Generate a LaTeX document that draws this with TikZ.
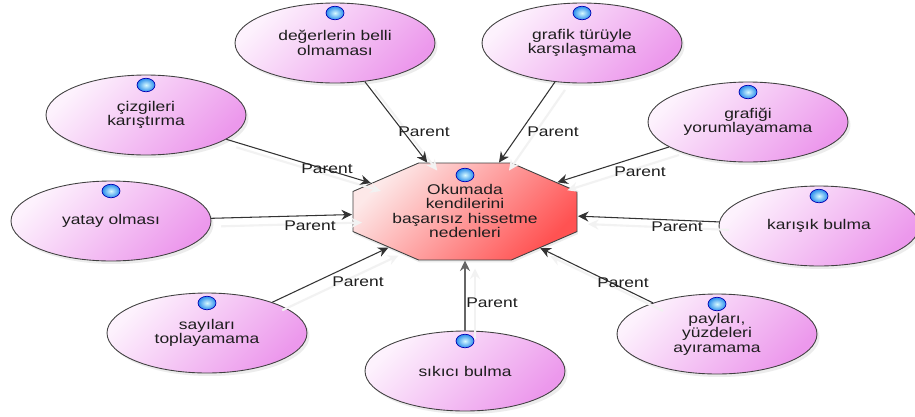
\documentclass[tikz,border=0pt]{standalone}
\usepackage{fontspec}
\setmainfont[FakeStretch=1.24]{Liberation Sans}
\usetikzlibrary{shapes.geometric,shadows,arrows.meta}
\definecolor{pinklight}{RGB}{253,242,253}
\definecolor{pinkdark}{RGB}{236,152,236}
\definecolor{redlight}{RGB}{253,232,232}
\definecolor{reddark}{RGB}{255,82,82}
\definecolor{bluebulb}{RGB}{40,140,235}
\definecolor{bluecore}{RGB}{215,250,255}
\definecolor{ink}{RGB}{30,30,30}

\begin{document}
\begin{tikzpicture}[x=0.02cm,y=-0.02cm,>={Stealth[length=0.21cm,width=0.2cm]}]
            \tikzstyle{cause}=[ellipse,draw=black!75,line width=0.5pt,top color=pinklight,bottom color=pinkdark,shading angle=45,minimum width=4cm,minimum height=1.6cm,inner sep=0pt,align=center,text=ink,font=\fontsize{8}{8.2}\selectfont,drop shadow={shadow xshift=0.05cm,shadow yshift=-0.06cm,opacity=0.15}]
            \tikzstyle{hub}=[regular polygon,regular polygon sides=8,minimum size=2cm,inner sep=0pt,transform shape,xscale=2.424,yscale=1.05,draw=black!75,line width=0.5pt,top color=redlight,bottom color=reddark,shading angle=45,drop shadow={shadow xshift=0.02cm,shadow yshift=-0.05cm,opacity=0.15}]
            \tikzstyle{bulb}=[ellipse,draw=blue!70!black,line width=0.4pt,inner color=bluecore,outer color=bluebulb,minimum width=0.36cm,minimum height=0.27cm,inner sep=0pt]
            \tikzstyle{tag}=[font=\fontsize{8}{9}\selectfont,text=ink,inner sep=1pt]
            \tikzstyle{link}=[->,draw=black!80,line width=0.6pt,preaction={draw=black!5,line width=1.2pt,transform canvas={shift={(0.2cm,-0.16cm)}}}]
            \tikzstyle{trunk}=[link,draw=black!60,line width=1.1pt]

                    \path[use as bounding box,fill=white] (0,0) rectangle (915,416);

                    \node[hub] (R) at (465,211.5){};
                    \node[align=center,text=ink,font=\fontsize{8}{8.2}\selectfont] (R-txt) at (465,211){Okumada\\kendilerini\\başarısız hissetme\\nedenleri};
                    \node[bulb] (B-R) at (465,175){};

                    \node[cause] (C-0) at (335,43){değerlerin belli\\olmaması};
                    \node[cause] (C-1) at (582,43){grafik türüyle\\karşılaşmama};
                    \node[cause] (C-2) at (146,115){çizgileri\\karıştırma};
                    \node[cause] (C-3) at (748,122){grafiği\\yorumlayamama};
                    \node[cause] (C-4) at (111,221){yatay olması};
                    \node[cause] (C-5) at (819,226){karışık bulma};
                    \node[cause] (C-6) at (207,333){sayıları\\toplayamama};
                    \node[cause] (C-7) at (465,371){sıkıcı bulma};
                    \node[cause] (C-8) at (717,334){payları,\\yüzdeleri\\ayıramama};

                \foreach \from in {0,...,8}
                    \node[bulb] (B-\from) at ([yshift=0.6cm]C-\from.center){};

                \foreach \from/\kind in {0/link, 1/link, 2/link, 3/link, 4/link, 5/link, 6/link, 7/trunk, 8/link}
                    \draw[\kind] (C-\from) -- (R);

                \foreach \from/\x/\y in {0/424/132, 1/553/132, 2/327/169, 3/640/172, 4/310/226, 5/677/227, 6/358/282, 7/492/303, 8/623/283}
                    \node[tag] (L-\from) at (\x,\y){Parent};
        \end{tikzpicture}
\end{document}
